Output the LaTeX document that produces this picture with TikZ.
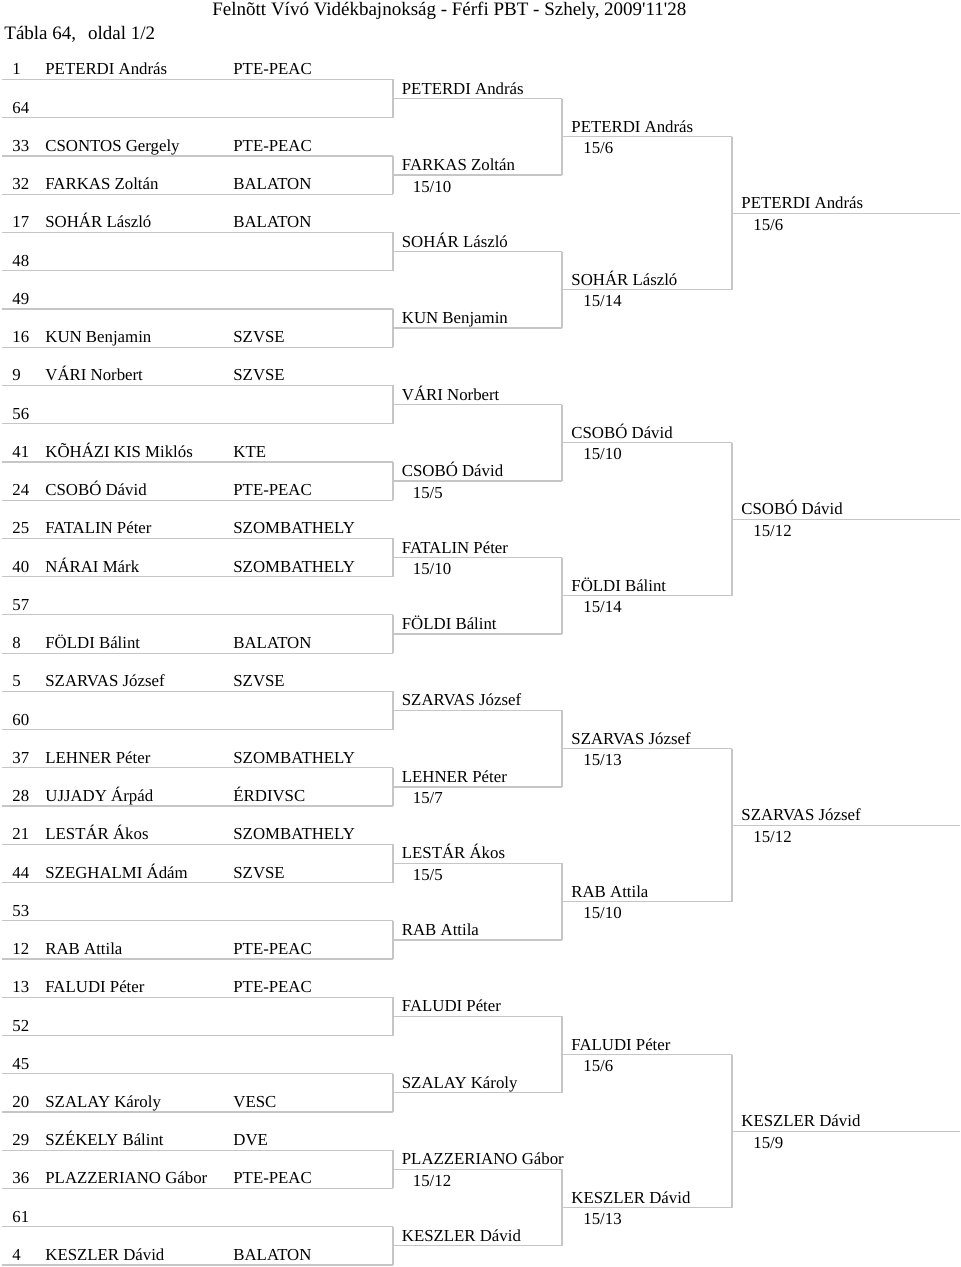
\documentclass[tikz,border=0pt]{standalone}
\usepackage{fontspec}
\setmainfont{Liberation Serif}
\usepackage{tikz}

\tikzset{
  bline/.style={draw=gray!45, line width=0.6pt},
  txt/.style={anchor=base west, inner sep=0pt, font=\fontsize{8.4}{10}\selectfont},
  head/.style={anchor=base west, inner sep=0pt, font=\fontsize{9.5}{11}\selectfont}
}
\def\rowh{38.24}
\def\topy{79.5}

\begin{document}
\begin{tikzpicture}[x=0.5pt, y=-0.5pt]
  \useasboundingbox (0,0) rectangle (960,1267);
  \node[head] (title) at (212,16) {Felnõtt Vívó Vidékbajnokság - Férfi PBT - Szhely, 2009\textquotesingle 11\textquotesingle 28};
  \node[head] (tabla) at (4,40) {Tábla 64,\hspace*{6pt}oldal 1/2};
  % entrants
  \foreach \s/\n/\c [count=\i from 0, evaluate={\y=\topy+\rowh*\i}] in {
      1/PETERDI András/PTE-PEAC, 64//, 33/CSONTOS Gergely/PTE-PEAC, 32/FARKAS Zoltán/BALATON,
      17/SOHÁR László/BALATON, 48//, 49//, 16/KUN Benjamin/SZVSE,
      9/VÁRI Norbert/SZVSE, 56//, 41/KÕHÁZI KIS Miklós/KTE, 24/CSOBÓ Dávid/PTE-PEAC,
      25/FATALIN Péter/SZOMBATHELY, 40/NÁRAI Márk/SZOMBATHELY, 57//, 8/FÖLDI Bálint/BALATON,
      5/SZARVAS József/SZVSE, 60//, 37/LEHNER Péter/SZOMBATHELY, 28/UJJADY Árpád/ÉRDIVSC,
      21/LESTÁR Ákos/SZOMBATHELY, 44/SZEGHALMI Ádám/SZVSE, 53//, 12/RAB Attila/PTE-PEAC,
      13/FALUDI Péter/PTE-PEAC, 52//, 45//, 20/SZALAY Károly/VESC,
      29/SZÉKELY Bálint/DVE, 36/PLAZZERIANO Gábor/PTE-PEAC, 61//, 4/KESZLER Dávid/BALATON} {
    \coordinate (a\i) at (2,\y);
    \coordinate (b\i) at (393,\y);
    \draw[bline] (a\i) -- (b\i);
    \node[txt] (seed\i) at (12,\y-4.5) {\s};
    \node[txt] (name\i) at (45,\y-4.5) {\n};
    \node[txt] (club\i) at (233,\y-4.5) {\c};
  }
  % round 2
  \foreach \n/\r [count=\j from 0, evaluate={\y=\topy+\rowh*(2*\j+0.5); \p=int(2*\j); \q=int(2*\j+1)}] in {
      PETERDI András/, FARKAS Zoltán/{15/10}, SOHÁR László/, KUN Benjamin/,
      VÁRI Norbert/, CSOBÓ Dávid/{15/5}, FATALIN Péter/{15/10}, FÖLDI Bálint/,
      SZARVAS József/, LEHNER Péter/{15/7}, LESTÁR Ákos/{15/5}, RAB Attila/,
      FALUDI Péter/, SZALAY Károly/, PLAZZERIANO Gábor/{15/12}, KESZLER Dávid/} {
    \draw[bline] (b\p) -- (b\q);
    \coordinate (m\j) at (393,\y);
    \coordinate (c\j) at (562,\y);
    \draw[bline] (m\j) -- (c\j);
    \node[txt] (w2n\j) at (401.5,\y-4.5) {\n};
    \node[txt] (w2s\j) at (412.5,\y+17) {\r};
  }
  % round 3
  \foreach \n/\r [count=\k from 0, evaluate={\y=\topy+\rowh*(4*\k+1.5); \p=int(2*\k); \q=int(2*\k+1)}] in {
      PETERDI András/{15/6}, SOHÁR László/{15/14}, CSOBÓ Dávid/{15/10}, FÖLDI Bálint/{15/14},
      SZARVAS József/{15/13}, RAB Attila/{15/10}, FALUDI Péter/{15/6}, KESZLER Dávid/{15/13}} {
    \draw[bline] (c\p) -- (c\q);
    \coordinate (n\k) at (562,\y);
    \coordinate (d\k) at (732,\y);
    \draw[bline] (n\k) -- (d\k);
    \node[txt] (w3n\k) at (571,\y-4.5) {\n};
    \node[txt] (w3s\k) at (583,\y+17) {\r};
  }
  % round 4
  \foreach \n/\r [count=\m from 0, evaluate={\y=\topy+\rowh*(8*\m+3.5); \p=int(2*\m); \q=int(2*\m+1)}] in {
      PETERDI András/{15/6}, CSOBÓ Dávid/{15/12}, SZARVAS József/{15/12}, KESZLER Dávid/{15/9}} {
    \draw[bline] (d\p) -- (d\q);
    \coordinate (o\m) at (732,\y);
    \coordinate (e\m) at (960,\y);
    \draw[bline] (o\m) -- (e\m);
    \node[txt] (w4n\m) at (741,\y-4.5) {\n};
    \node[txt] (w4s\m) at (753,\y+17) {\r};
  }
\end{tikzpicture}
\end{document}
